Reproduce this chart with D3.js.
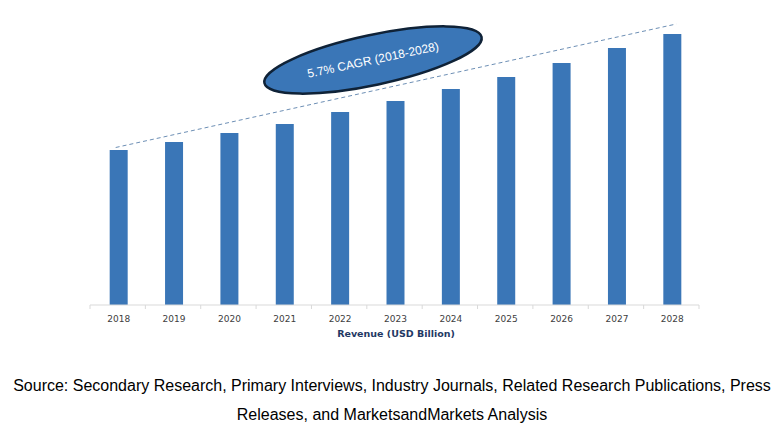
<!DOCTYPE html>
<html><head><meta charset="utf-8">
<script src="https://cdn.jsdelivr.net/npm/d3@7"></script>
<style>body{margin:0;background:#fff}svg{display:block}</style>
</head><body>
<script>
const years = ["2018","2019","2020","2021","2022","2023","2024","2025","2026","2027","2028"];
const revenue = [15.5,16.3,17.2,18.1,19.3,20.4,21.6,22.8,24.2,25.7,27.1];
const trend = [{year:"2018", v:15.75, off:-3},{year:"2028", v:28.1, off:4}];
const cagrLabel = "5.7% CAGR (2018-2028)";
const axisTitle = "Revenue (USD Billion)";
const sourceLines = ["Source: Secondary Research, Primary Interviews, Industry Journals, Related Research Publications, Press","Releases, and MarketsandMarkets Analysis"];

const W=784,H=430;
const svg=d3.select("body").append("svg").attr("width",W).attr("height",H);
const x=d3.scaleBand().domain(years).range([91,700]).paddingInner(0.675).paddingOuter(0.3375);
const y=d3.scaleLinear().domain([0,30]).range([305,5]);

svg.append("g").selectAll("rect").data(years).join("rect")
  .attr("x",d=>x(d)).attr("width",x.bandwidth())
  .attr("y",(d,i)=>y(revenue[i])).attr("height",(d,i)=>y(0)-y(revenue[i]))
  .attr("fill","#3a76b7");

// axis
const step=x.step();
const ax=svg.append("g").attr("transform","translate(0,305)");
ax.append("line").attr("x1",90).attr("x2",699).attr("stroke","#d9d9d9").attr("stroke-width",1);
const bounds=d3.range(years.length+1).map(i=>90+i*step);
ax.selectAll("line.t").data(bounds).join("line").attr("class","t")
  .attr("x1",d=>d).attr("x2",d=>d).attr("y1",0).attr("y2",4).attr("stroke","#d9d9d9");
ax.selectAll("text").data(years).join("text")
  .attr("x",d=>x(d)+x.bandwidth()/2).attr("y",17)
  .attr("text-anchor","middle").attr("font-family","DejaVu Sans").attr("font-size",9)
  .attr("fill","#404040").text(d=>d);
svg.append("text").attr("x",396).attr("y",337).attr("text-anchor","middle")
  .attr("font-family","DejaVu Sans").attr("font-weight","bold").attr("font-size",9.5)
  .attr("fill","#1f3864").text(axisTitle);

// trend line
const line=d3.line().x(d=>x(d.year)+x.bandwidth()/2+d.off).y(d=>y(d.v));
svg.append("path").datum(trend).attr("d",line).attr("fill","none")
  .attr("stroke","#6d8fb5").attr("stroke-width",1).attr("stroke-dasharray","4,3");

// ellipse
const eg=svg.append("g").attr("transform","translate(373,60) rotate(-12)");
eg.append("ellipse").attr("rx",111).attr("ry",25).attr("fill","#3a76b7")
  .attr("stroke","#0f2237").attr("stroke-width",2.5);
eg.append("text").attr("x",0).attr("y",4).attr("text-anchor","middle")
  .attr("font-family","Liberation Sans").attr("font-size",12).attr("fill","#fff").text(cagrLabel);

// source
svg.append("g").selectAll("text").data(sourceLines).join("text")
  .attr("x",392).attr("y",(d,i)=>391+i*29).attr("text-anchor","middle")
  .attr("font-family","Liberation Sans").attr("font-size",16).attr("fill","#000").text(d=>d);
</script>
</body></html>
